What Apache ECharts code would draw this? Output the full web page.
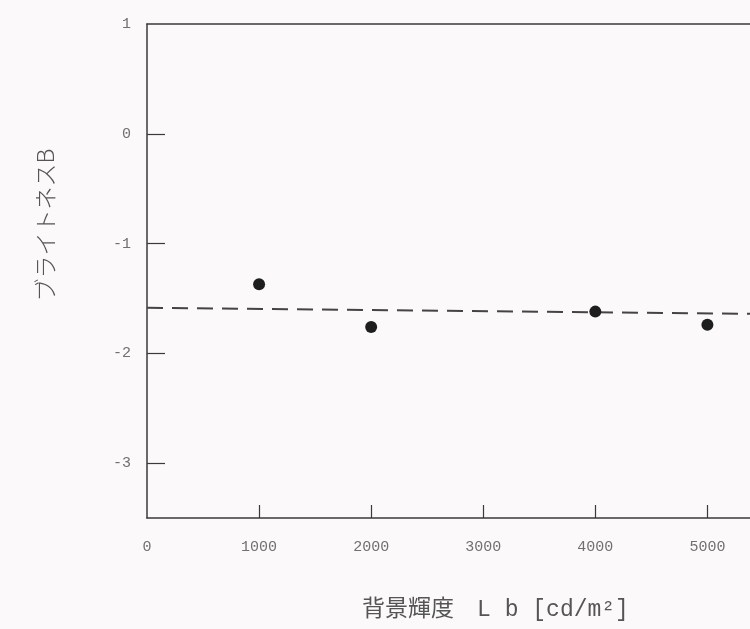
<!DOCTYPE html>
<html>
<head>
<meta charset="utf-8">
<script src="https://cdn.jsdelivr.net/npm/echarts@6/dist/echarts.min.js"></script>
<style>
html,body{margin:0;padding:0;background:#fbf9f9;}
#c{width:750px;height:629px;}
</style>
</head>
<body>
<div id="c"></div>
<script>
// Data
const xValues = [1000, 2000, 4000, 5000];
const brightness = [-1.37, -1.76, -1.62, -1.74];
const fitX = [0, 5380];
const fitY = [-1.585, -1.64];
const xTickLabels = [0, 1000, 2000, 3000, 4000, 5000];
const yTickLabels = [-3, -2, -1, 0, 1];
const xName = '背景輝度　L b [cd/m²]';
const yName = 'ブライトネスB';

const chart = echarts.init(document.getElementById('c'), null, {renderer: 'canvas'});
const lineColor = '#3a3a3a';
const labelFont = {fontFamily: 'Liberation Mono', fontSize: 15, color: '#707070'};

chart.setOption({
  backgroundColor: '#fbf9f9',
  animation: false,
  grid: {left: 147, top: 24, right: 0, height: 494, show: false},
  xAxis: [{
    type: 'value', min: 0, max: 5380,
    name: xName, nameLocation: 'middle', nameGap: 80,
    nameTextStyle: {fontFamily: "'Liberation Mono', 'Noto Sans CJK JP'", fontSize: 23, color: '#555', padding: [0, 0, 0, 94]},
    axisLine: {show: true, onZero: false, lineStyle: {color: lineColor, width: 1.5}},
    axisTick: {show: true, inside: true, length: 13, customValues: xTickLabels.slice(1), lineStyle: {color: lineColor, width: 1.2}},
    axisLabel: Object.assign({margin: 22, customValues: xTickLabels, formatter: v => String(v)}, labelFont),
    splitLine: {show: false}
  }, {
    type: 'value', min: 0, max: 5380, position: 'top',
    axisLine: {show: true, onZero: false, lineStyle: {color: lineColor, width: 1.5}},
    axisTick: {show: false}, axisLabel: {show: false}, splitLine: {show: false}
  }],
  yAxis: {
    type: 'value', min: -3.5, max: 1,
    name: yName, nameLocation: 'middle', nameGap: 90, nameRotate: 90,
    nameTextStyle: {fontFamily: "'Noto Sans CJK JP'", fontSize: 23, color: '#555', fontWeight: 300, padding: [0, 0, 0, 92]},
    axisLine: {show: true, onZero: false, lineStyle: {color: lineColor, width: 1.5}},
    axisTick: {show: true, inside: true, length: 18, customValues: yTickLabels.slice(0, 4), lineStyle: {color: lineColor, width: 1.2}},
    axisLabel: Object.assign({margin: 16, customValues: yTickLabels, formatter: v => String(v)}, labelFont),
    splitLine: {show: false}
  },
  series: [
    {
      type: 'line',
      data: fitX.map((x, i) => [x, fitY[i]]),
      symbol: 'none',
      lineStyle: {color: '#444', width: 2, type: [16, 9]},
      z: 2
    },
    {
      type: 'scatter',
      data: xValues.map((x, i) => [x, brightness[i]]),
      symbol: 'circle', symbolSize: 12,
      itemStyle: {color: '#1e1e1e', opacity: 1},
      z: 3
    }
  ]
});
</script>
</body>
</html>
